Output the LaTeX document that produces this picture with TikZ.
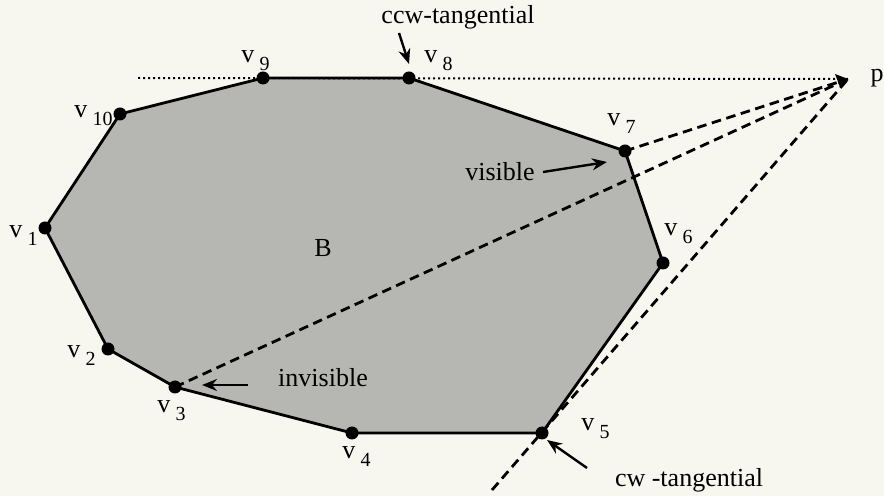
\documentclass[tikz,border=0pt]{standalone}
\usepackage{fontspec}
\setmainfont{Liberation Serif}
\usetikzlibrary{arrows.meta}
\definecolor{paper}{RGB}{247,247,239}
\definecolor{polyfill}{RGB}{182,182,178}
\newcommand\vlab[1]{v\hspace{2.6pt}\raisebox{-4pt}{\fontsize{10}{12}\selectfont #1}}
\begin{document}
\begin{tikzpicture}[x=0.5pt,y=-0.5pt,
  vdot/.style={circle,fill=black,inner sep=0pt,minimum size=6.5pt},
  vtxlab/.style={anchor=base west,inner sep=0pt,font=\fontsize{13}{15}\selectfont},
  txt/.style={inner sep=0pt,font=\fontsize{13}{15}\selectfont},
  edge/.style={line width=1.4pt,line join=round},
  tang/.style={line width=1.4pt,dash pattern=on 4.8pt off 2.8pt},
  dotline/.style={line width=1pt,dash pattern=on 1pt off 1.5pt},
  pointer/.style={line width=1.2pt,-{Stealth[length=7.5pt,width=6pt]}}]
\useasboundingbox (0,0) rectangle (884,496);
\fill[paper] (0,0) rectangle (884,496);
% vertices
\coordinate (v1) at (45,228);
\coordinate (v2) at (108,349);
\coordinate (v3) at (175,387);
\coordinate (v4) at (352,433);
\coordinate (v5) at (542,433);
\coordinate (v6) at (663,263);
\coordinate (v7) at (625,151);
\coordinate (v8) at (409,78);
\coordinate (v9) at (263,78);
\coordinate (v10) at (120,114);
\coordinate (p) at (848,79);
\coordinate (dotstart) at (138,78);
\coordinate (cwend) at (492,490);
% polygon
\fill[polyfill] (v1)--(v2)--(v3)--(v4)--(v5)--(v6)--(v7)--(v8)--(v9)--(v10)--cycle;
% lines to p
\draw[dotline] (dotstart) -- (p);
\draw[tang] (v7) -- (p);
\draw[tang] (v3) -- (p);
\draw[tang] (cwend) -- (p);
\draw[edge] (v1)--(v2)--(v3)--(v4)--(v5)--(v6)--(v7)--(v8)--(v9)--(v10)--cycle;
\fill (p) ++(-13,-5) -- (p) -- ++(-8,8) -- cycle;
\foreach \v in {v1,v2,v3,v4,v5,v6,v7,v8,v9,v10}
  \node[vdot] at (\v) {};
% vertex labels
\node[vtxlab] (l1) at (9,238) {\vlab{1}};
\node[vtxlab] (l2) at (67,358) {\vlab{2}};
\node[vtxlab] (l3) at (157,413) {\vlab{3}};
\node[vtxlab] (l4) at (342,459) {\vlab{4}};
\node[vtxlab] (l5) at (581,431) {\vlab{5}};
\node[vtxlab] (l6) at (664,236) {\vlab{6}};
\node[vtxlab] (l7) at (607,126) {\vlab{7}};
\node[vtxlab] (l8) at (424,63) {\vlab{8}};
\node[vtxlab] (l9) at (241,63) {\vlab{9}};
\node[vtxlab] (l10) at (74,118) {\vlab{10}};
\node[txt] (lp) at (877,78) {p};
\node[txt] (lB) at (323,248) {B};
% annotations
\node[txt] (ccw) at (458,17) {ccw-tangential};
\node[txt] (vis) at (500,172) {visible};
\node[txt] (inv) at (323,378) {invisible};
\node[txt] (cw) at (689,480) {cw -tangential};
\coordinate (ccwtip) at (409,64);
\coordinate (vistip) at (607,162);
\coordinate (invtip) at (202,385);
\coordinate (cwtip) at (547,440);
\draw[pointer] (399,33) -- (ccwtip);
\draw[pointer] (vis.east) ++(8,0) -- (vistip);
\draw[pointer] (inv.west) ++(-30,7) -- (invtip);
\draw[pointer] (587,468) -- (cwtip);
\end{tikzpicture}
\end{document}
